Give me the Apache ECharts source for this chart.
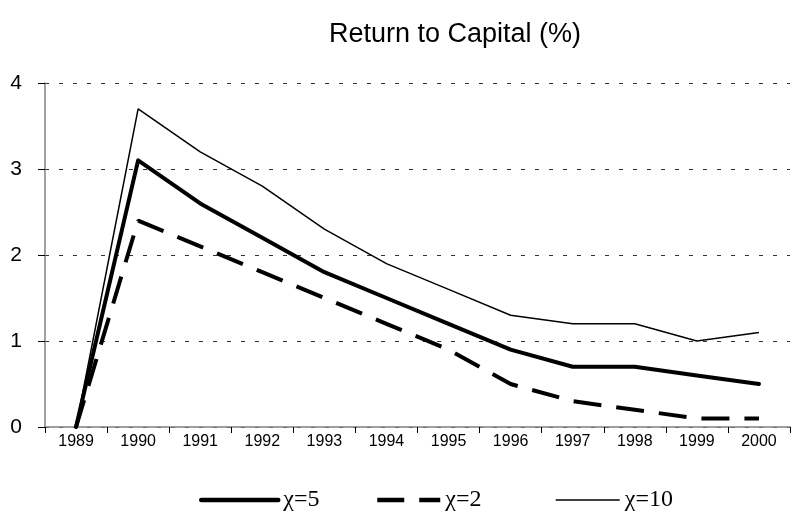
<!DOCTYPE html>
<html>
<head>
<meta charset="utf-8">
<script src="https://cdn.jsdelivr.net/npm/echarts@6/dist/echarts.min.js"></script>
<style>html,body{margin:0;padding:0;background:#fff}#c{width:792px;height:529px}</style>
</head>
<body>
<div id="c"></div>
<script>
var years = ['1989','1990','1991','1992','1993','1994','1995','1996','1997','1998','1999','2000'];
var chi5  = [0, 3.1, 2.6, 2.2, 1.8, 1.5, 1.2, 0.9, 0.7, 0.7, 0.6, 0.5];
var chi2  = [0, 2.4, 2.1, 1.8, 1.5, 1.2, 0.9, 0.5, 0.3, 0.2, 0.1, 0.1];
var chi10 = [0, 3.7, 3.2, 2.8, 2.3, 1.9, 1.6, 1.3, 1.2, 1.2, 1.0, 1.1];
var yTicks = [0, 1, 2, 3, 4];

var chart = echarts.init(document.getElementById('c'));
var legendText = {fontFamily: '"Liberation Serif", "Times New Roman", serif', fontSize: 24, color: '#000'};
var noSym = {color: 'rgba(0,0,0,0)', borderWidth: 0, opacity: 0};
chart.setOption({
  animation: false,
  color: ['#000', '#000', '#000'],
  title: {
    text: 'Return to Capital (%)', left: 450, top: 16, textAlign: 'center',
    textStyle: {fontFamily: '"Liberation Sans", Arial, sans-serif', fontSize: 27, fontWeight: 'normal', color: '#000'}
  },
  legend: [
    {data: ['χ=5'], left: 199, top: 488, itemWidth: 77, itemHeight: 24, textStyle: legendText, selectedMode: false, padding: 0,
      itemStyle: noSym, lineStyle: {color: '#000', width: 4.5, type: 'solid'}},
    {data: ['χ=2'], left: 375, top: 488, itemWidth: 63, itemHeight: 24, textStyle: legendText, selectedMode: false, padding: 0,
      itemStyle: noSym, lineStyle: {color: '#000', width: 4.5, type: [27, 15]}},
    {data: ['χ=10'], left: 555, top: 488, itemWidth: 64, itemHeight: 24, textStyle: legendText, selectedMode: false, padding: 0,
      itemStyle: noSym, lineStyle: {color: '#000', width: 1.5, type: 'solid'}}
  ],
  grid: {left: 45, right: 2, top: 83, bottom: 102, containLabel: false},
  xAxis: {
    type: 'category', data: years, boundaryGap: true,
    axisLine: {lineStyle: {color: '#808080', width: 1.5}},
    axisTick: {show: true, alignWithLabel: false, length: 6, lineStyle: {color: '#000'}},
    axisLabel: {fontFamily: '"Liberation Sans", Arial, sans-serif', fontSize: 16, color: '#000', margin: 7, interval: 0}
  },
  yAxis: {
    type: 'value', min: 0, max: 4, interval: 1,
    axisLine: {show: true, lineStyle: {color: '#808080', width: 1.5}},
    axisTick: {show: true, length: 7, lineStyle: {color: '#000'}},
    axisLabel: {fontFamily: '"Liberation Sans", Arial, sans-serif', fontSize: 21, color: '#000', margin: 23,
      formatter: function (v) { return yTicks.indexOf(v) >= 0 ? String(v) : ''; }},
    splitLine: {show: true, lineStyle: {color: '#333', type: [4, 10], width: 1}}
  },
  series: [
    {name: 'χ=5', type: 'line', data: chi5, symbol: 'none', lineStyle: {color: '#000', width: 4, cap: 'round', join: 'round'}, z: 3},
    {name: 'χ=2', type: 'line', data: chi2, symbol: 'none', lineStyle: {color: '#000', width: 4, type: [28, 15]}, z: 2},
    {name: 'χ=10', type: 'line', data: chi10, symbol: 'none', lineStyle: {color: '#000', width: 1.5}, z: 4}
  ]
});
</script>
</body>
</html>
